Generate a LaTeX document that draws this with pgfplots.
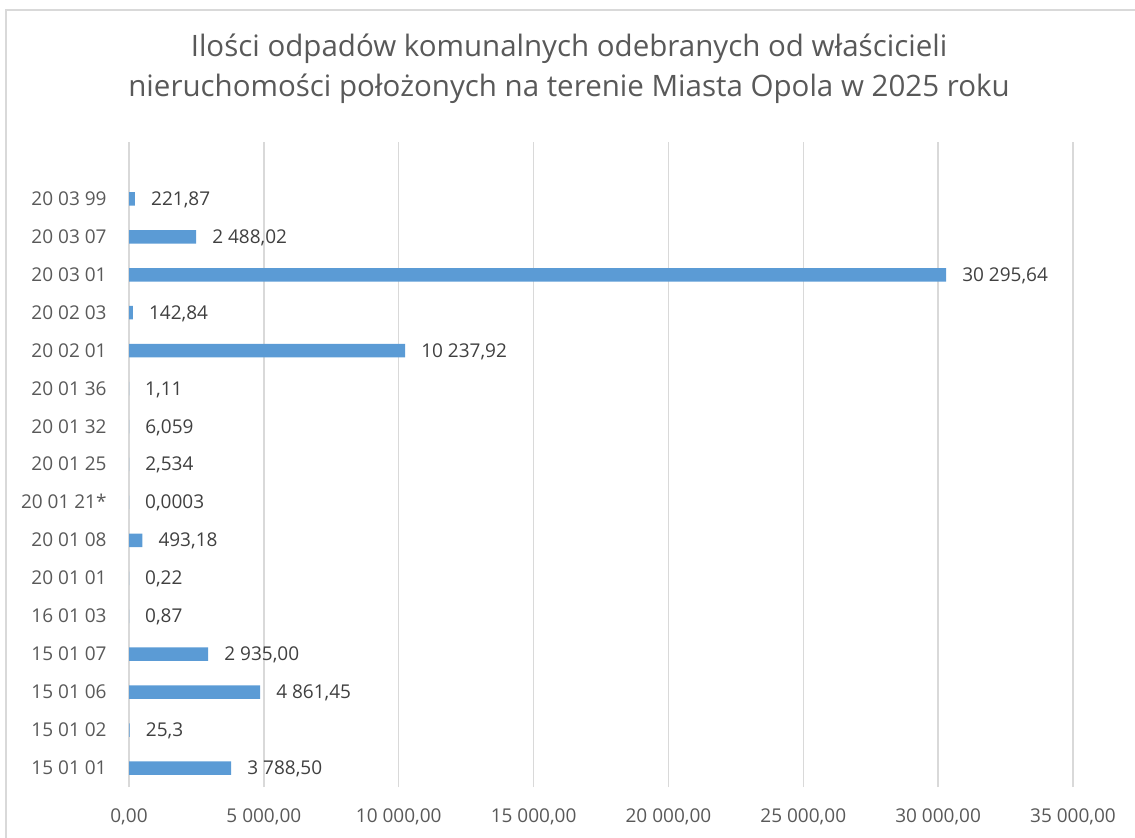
\documentclass[border=0pt]{standalone}
\usepackage{fontspec}
\setmainfont{Open Sans}
\usepackage{pgfplots}
\pgfplotsset{compat=1.18}
\definecolor{barblue}{HTML}{5B9BD5}
\definecolor{txtgray}{HTML}{595959}
\definecolor{lblgray}{HTML}{404040}
\definecolor{gridgray}{HTML}{D9D9D9}
\begin{document}
\begin{tikzpicture}
\path[use as bounding box] (0bp,0bp) rectangle (1135bp,838bp);
\begin{scope}
\clip (0bp,0bp) rectangle (1135bp,838bp);
\draw[gridgray, line width=1.5bp] (6bp,-10bp) -- (6bp,828bp) -- (1150bp,828bp);
\end{scope}
\node[txtgray, font=\fontsize{29.5bp}{40bp}\selectfont, align=center] at (569bp,769bp) {Ilości odpadów komunalnych odebranych od właścicieli\\nieruchomości położonych na terenie Miasta Opola w 2025 roku};
\begin{axis}[
  at={(129bp,51bp)}, anchor=south west,
  scale only axis, width=944bp, height=645bp,
  xmin=0, xmax=35000, ymin=-0.5, ymax=16.5,
  xbar, bar width=13.5bp,
  clip=false,
  axis line style={draw=none}, tick style={draw=none},
  xmajorgrids, major grid style={gridgray, line width=1.5bp},
  xtick={0,5000,10000,15000,20000,25000,30000,35000},
  xticklabels={{0,00},{5 000,00},{10 000,00},{15 000,00},{20 000,00},{25 000,00},{30 000,00},{35 000,00}},
  xticklabel style={font=\fontsize{19bp}{22bp}\selectfont, text=txtgray, anchor=base, inner sep=0pt, text depth=0pt, yshift=-35bp},
  ytick={0,1,2,3,4,5,6,7,8,9,10,11,12,13,14,15},
  yticklabels={{15 01 01},{15 01 02},{15 01 06},{15 01 07},{16 01 03},{20 01 01},{20 01 08},{20 01 21*},{20 01 25},{20 01 32},{20 01 36},{20 02 01},{20 02 03},{20 03 01},{20 03 07},{20 03 99}},
  yticklabel style={font=\fontsize{19bp}{22bp}\selectfont, text=txtgray, anchor=base east, inner sep=0pt, xshift=-18bp, yshift=-6.5bp},
  point meta=explicit symbolic,
  nodes near coords,
  every node near coord/.append style={font=\fontsize{19bp}{22bp}\selectfont, text=lblgray, anchor=base west, inner sep=0pt, xshift=16bp, yshift=-6.5bp},
]
\addplot[fill=barblue, draw=none] coordinates {
  (3788.50,0) [3 788,50]
  (25.3,1) [25,3]
  (4861.45,2) [4 861,45]
  (2935.00,3) [2 935,00]
  (0.87,4) [0,87]
  (0.22,5) [0,22]
  (493.18,6) [493,18]
  (0.0003,7) [0,0003]
  (2.534,8) [2,534]
  (6.059,9) [6,059]
  (1.11,10) [1,11]
  (10237.92,11) [10 237,92]
  (142.84,12) [142,84]
  (30295.64,13) [30 295,64]
  (2488.02,14) [2 488,02]
  (221.87,15) [221,87]
};
\end{axis}
\end{tikzpicture}
\end{document}
